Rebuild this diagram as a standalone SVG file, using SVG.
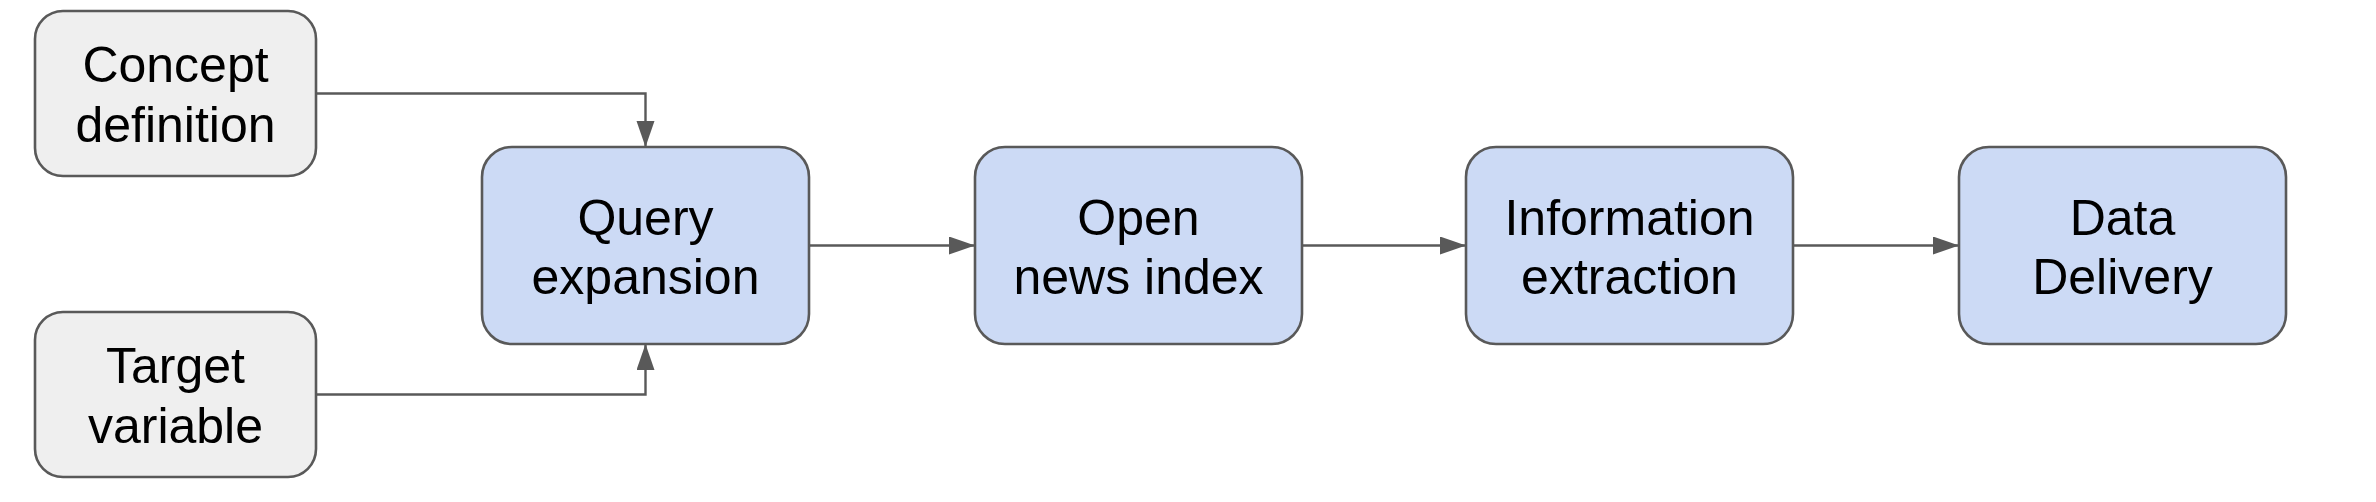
<svg xmlns="http://www.w3.org/2000/svg" width="2376" height="502" viewBox="0 0 2376 502">
<defs>
<style>
.box{stroke:#595959;stroke-width:2.6}
.gray{fill:#efefef}
.blue{fill:#ccdaf5}
.lbl{font-family:"Liberation Sans",Arial,sans-serif;font-size:50px;fill:#000;text-anchor:middle}
.conn{fill:none;stroke:#595959;stroke-width:2.4}
</style>
<marker id="arr" markerUnits="userSpaceOnUse" markerWidth="28" markerHeight="20" refX="26" refY="9" orient="auto">
<path d="M0,0 L26,9 L0,18 Z" fill="#595959"/>
</marker>
</defs>
<rect width="2376" height="502" fill="#fff"/>
<g id="connectors">
<path class="conn" d="M316,93.5 H645.5 V147" marker-end="url(#arr)"/>
<path class="conn" d="M316,394.5 H645.5 V344" marker-end="url(#arr)"/>
<path class="conn" d="M809,245.5 H975" marker-end="url(#arr)"/>
<path class="conn" d="M1302,245.5 H1466" marker-end="url(#arr)"/>
<path class="conn" d="M1793,245.5 H1959" marker-end="url(#arr)"/>
</g>
<g id="concept">
<rect class="box gray" x="35" y="11" width="281" height="165" rx="28"/>
<text class="lbl" x="175.5" y="82">Concept</text>
<text class="lbl" x="175.5" y="142">definition</text>
</g>
<g id="target">
<rect class="box gray" x="35" y="312" width="281" height="165" rx="28"/>
<text class="lbl" x="175.5" y="383">Target</text>
<text class="lbl" x="175.5" y="443">variable</text>
</g>
<g id="query">
<rect class="box blue" x="482" y="147" width="327" height="197" rx="30"/>
<text class="lbl" x="645.5" y="234.5">Query</text>
<text class="lbl" x="645.5" y="294">expansion</text>
</g>
<g id="news">
<rect class="box blue" x="975" y="147" width="327" height="197" rx="30"/>
<text class="lbl" x="1138.5" y="234.5">Open</text>
<text class="lbl" x="1138.5" y="294">news index</text>
</g>
<g id="extraction">
<rect class="box blue" x="1466" y="147" width="327" height="197" rx="30"/>
<text class="lbl" x="1629.5" y="234.5">Information</text>
<text class="lbl" x="1629.5" y="294">extraction</text>
</g>
<g id="delivery">
<rect class="box blue" x="1959" y="147" width="327" height="197" rx="30"/>
<text class="lbl" x="2122.5" y="234.5">Data</text>
<text class="lbl" x="2122.5" y="294">Delivery</text>
</g>
</svg>
